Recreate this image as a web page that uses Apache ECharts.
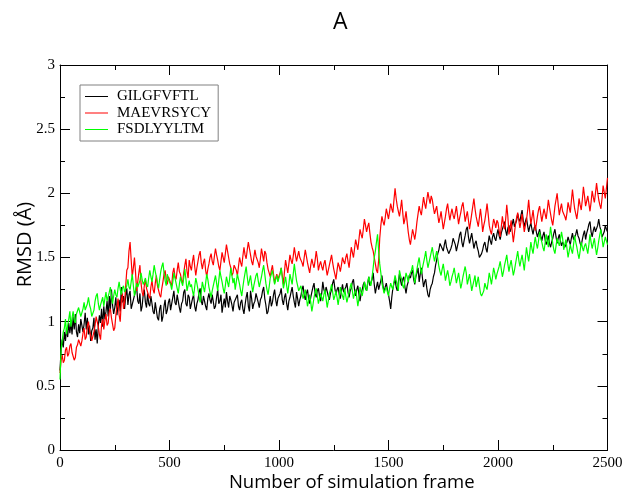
<!DOCTYPE html>
<html>
<head>
<meta charset="utf-8">
<script src="https://cdn.jsdelivr.net/npm/echarts@6/dist/echarts.min.js"></script>
<style>html,body{margin:0;padding:0;background:#fff}#c{width:625px;height:492px}</style>
</head>
<body>
<div id="c"></div>
<script>
// samples every 5 simulation frames, 0..2500 (one row = 50 frames)
const frameStep = 5;

const xTicks = [0, 500, 1000, 1500, 2000, 2500];
const yTicks = [0, 0.5, 1, 1.5, 2, 2.5, 3];
const seriesNames = ['GILGFVFTL', 'MAEVRSYCY', 'FSDLYYLTM'];

// GILGFVFTL (black)
const gilgfvftl = [
0.62,0.78,0.86,0.80,0.92,0.85,0.95,0.88,0.99,0.91,
0.99,0.90,1.04,0.94,1.06,0.92,0.88,0.98,0.91,1.02,
1.01,0.92,0.98,1.07,0.94,1.03,0.90,0.97,0.85,0.93,
0.95,1.03,0.86,0.94,0.83,0.97,1.05,0.99,1.10,0.96,
1.12,1.02,1.08,1.16,1.04,1.20,1.09,1.25,1.13,1.06,
1.11,1.19,1.05,1.13,1.17,1.08,1.27,1.15,1.20,1.10,
1.20,1.26,1.13,1.21,1.24,1.10,1.09,1.17,1.18,1.24,
1.27,1.16,1.14,1.22,1.08,1.12,1.21,1.25,1.15,1.11,
1.22,1.14,1.12,1.20,1.19,1.08,1.06,1.15,1.15,1.03,
1.01,1.10,1.13,1.00,1.04,1.12,1.17,1.06,1.09,1.15,
1.18,1.09,1.10,1.19,1.24,1.15,1.13,1.21,1.20,1.11,
1.07,1.14,1.16,1.23,1.25,1.14,1.12,1.21,1.19,1.10,
1.11,1.18,1.21,1.12,1.08,1.14,1.17,1.23,1.26,1.16,
1.13,1.20,1.19,1.12,1.09,1.18,1.22,1.17,1.14,1.21,
1.20,1.10,1.12,1.19,1.25,1.14,1.16,1.21,1.07,1.13,
1.18,1.11,1.23,1.16,1.11,1.20,1.17,1.13,1.08,1.15,
1.14,1.19,1.21,1.12,1.09,1.15,1.17,1.10,1.06,1.13,
1.19,1.23,1.12,1.08,1.24,1.18,1.10,1.14,1.16,1.22,
1.22,1.15,1.11,1.17,1.19,1.24,1.27,1.18,1.13,1.06,
1.08,1.14,1.20,1.12,1.15,1.21,1.25,1.17,1.12,1.18,
1.18,1.22,1.26,1.17,1.13,1.19,1.22,1.14,1.09,1.16,
1.19,1.23,1.27,1.20,1.15,1.11,1.23,1.18,1.12,1.17,
1.20,1.25,1.28,1.21,1.17,1.22,1.25,1.18,1.14,1.19,
1.23,1.27,1.30,1.22,1.19,1.24,1.26,1.20,1.16,1.22,
1.31,1.25,1.22,1.27,1.28,1.20,1.17,1.22,1.25,1.30,
1.33,1.26,1.21,1.25,1.27,1.21,1.18,1.24,1.29,1.23,
1.22,1.27,1.30,1.23,1.19,1.24,1.26,1.31,1.33,1.25,
1.20,1.25,1.28,1.21,1.16,1.22,1.25,1.29,1.31,1.26,
1.24,1.30,1.35,1.28,1.27,1.33,1.38,1.29,1.22,1.27,
1.31,1.25,1.26,1.32,1.36,1.28,1.23,1.27,1.30,1.25,
1.21,1.16,1.10,1.19,1.26,1.30,1.33,1.27,1.24,1.31,
1.37,1.32,1.28,1.33,1.35,1.27,1.22,1.28,1.31,1.36,
1.34,1.38,1.40,1.33,1.29,1.35,1.38,1.42,1.31,1.37,
1.42,1.34,1.27,1.31,1.33,1.26,1.21,1.19,1.25,1.28,
1.30,1.35,1.38,1.44,1.48,1.53,1.56,1.61,1.62,1.57,
1.55,1.60,1.64,1.58,1.58,1.53,1.52,1.57,1.60,1.65,
1.66,1.60,1.55,1.59,1.63,1.68,1.70,1.62,1.58,1.63,
1.67,1.72,1.74,1.66,1.61,1.65,1.69,1.63,1.57,1.61,
1.63,1.58,1.55,1.50,1.49,1.53,1.56,1.60,1.62,1.57,
1.54,1.61,1.67,1.63,1.60,1.66,1.69,1.65,1.63,1.68,
1.72,1.67,1.64,1.69,1.70,1.75,1.78,1.71,1.67,1.73,
1.75,1.70,1.69,1.76,1.80,1.74,1.73,1.79,1.84,1.80,
1.78,1.83,1.87,1.79,1.74,1.78,1.81,1.75,1.70,1.74,
1.77,1.72,1.68,1.73,1.75,1.70,1.66,1.69,1.72,1.67,
1.63,1.67,1.70,1.64,1.60,1.63,1.67,1.61,1.58,1.62,
1.65,1.69,1.72,1.66,1.61,1.65,1.68,1.63,1.59,1.62,
1.62,1.58,1.57,1.62,1.66,1.63,1.60,1.65,1.69,1.64,
1.63,1.68,1.72,1.67,1.65,1.61,1.59,1.64,1.68,1.71,
1.64,1.69,1.72,1.76,1.78,1.70,1.66,1.71,1.74,1.70,
1.69,1.75,1.80,1.74,1.71,1.66,1.65,1.70,1.75,1.72,
1.70];

// MAEVRSYCY (red)
const maevrsycy = [
0.60,0.70,0.74,0.68,0.70,0.78,0.80,0.73,0.75,0.81,
0.83,0.76,0.77,0.70,0.72,0.80,0.82,0.86,0.87,0.81,
0.85,0.91,0.95,0.86,0.88,0.97,1.00,0.93,0.92,0.85,
0.84,0.92,0.97,1.04,1.03,0.96,0.90,0.86,0.98,1.02,
0.94,1.01,1.06,0.97,0.99,1.08,1.10,1.03,1.02,0.93,
0.95,1.05,1.12,1.18,1.05,1.00,1.16,1.22,1.10,1.15,
1.28,1.40,1.42,1.55,1.62,1.48,1.35,1.42,1.50,1.38,
1.24,1.31,1.38,1.44,1.30,1.23,1.20,1.28,1.33,1.26,
1.25,1.20,1.18,1.27,1.32,1.25,1.22,1.30,1.36,1.28,
1.27,1.21,1.19,1.26,1.31,1.37,1.40,1.33,1.29,1.35,
1.35,1.30,1.28,1.38,1.42,1.35,1.33,1.40,1.46,1.39,
1.37,1.32,1.30,1.38,1.44,1.49,1.39,1.34,1.48,1.43,
1.40,1.47,1.52,1.43,1.36,1.42,1.47,1.52,1.55,1.46,
1.41,1.46,1.49,1.40,1.35,1.41,1.45,1.50,1.53,1.47,
1.44,1.51,1.57,1.52,1.48,1.43,1.40,1.47,1.54,1.50,
1.46,1.53,1.60,1.55,1.50,1.45,1.42,1.36,1.38,1.44,
1.45,1.40,1.36,1.43,1.50,1.46,1.43,1.51,1.58,1.52,
1.49,1.56,1.62,1.57,1.52,1.47,1.44,1.50,1.56,1.51,
1.50,1.46,1.42,1.49,1.57,1.52,1.47,1.55,1.53,1.46,
1.41,1.38,1.35,1.40,1.44,1.37,1.30,1.34,1.37,1.33,
1.33,1.38,1.42,1.36,1.29,1.39,1.48,1.43,1.38,1.45,
1.52,1.48,1.45,1.51,1.58,1.52,1.47,1.51,1.55,1.50,
1.50,1.46,1.43,1.50,1.56,1.51,1.46,1.42,1.38,1.44,
1.49,1.45,1.42,1.48,1.55,1.49,1.40,1.44,1.47,1.43,
1.40,1.45,1.48,1.42,1.36,1.40,1.44,1.48,1.52,1.46,
1.41,1.37,1.33,1.40,1.46,1.43,1.39,1.44,1.50,1.47,
1.45,1.50,1.53,1.47,1.42,1.50,1.58,1.54,1.50,1.57,
1.64,1.60,1.56,1.64,1.72,1.68,1.65,1.72,1.80,1.75,
1.70,1.74,1.77,1.69,1.62,1.58,1.55,1.50,1.45,1.40,
1.38,1.48,1.65,1.75,1.82,1.78,1.75,1.81,1.88,1.84,
1.80,1.86,1.92,1.88,1.85,1.95,2.04,1.96,1.90,1.86,
1.82,1.88,1.95,1.85,1.76,1.80,1.86,1.78,1.70,1.64,
1.60,1.66,1.72,1.68,1.64,1.70,1.78,1.84,1.90,1.86,
1.83,1.90,1.97,1.92,1.88,1.95,2.01,1.96,1.92,1.98,
1.95,1.89,1.84,1.87,1.90,1.83,1.77,1.81,1.86,1.79,
1.72,1.77,1.82,1.88,1.92,1.85,1.79,1.84,1.88,1.83,
1.80,1.85,1.90,1.83,1.76,1.81,1.85,1.90,1.93,1.86,
1.78,1.82,1.86,1.79,1.72,1.78,1.84,1.90,1.96,1.88,
1.82,1.78,1.74,1.81,1.88,1.80,1.70,1.75,1.79,1.85,
1.92,1.84,1.75,1.71,1.68,1.74,1.80,1.77,1.73,1.79,
1.77,1.71,1.66,1.74,1.82,1.76,1.72,1.80,1.91,1.82,
1.68,1.73,1.79,1.70,1.62,1.69,1.76,1.81,1.85,1.79,
1.73,1.78,1.84,1.77,1.70,1.75,1.79,1.86,1.95,1.85,
1.76,1.81,1.87,1.79,1.71,1.76,1.82,1.87,1.90,1.84,
1.78,1.83,1.88,1.84,1.80,1.87,1.95,1.89,1.84,1.79,
1.75,1.82,1.90,1.95,2.00,1.91,1.83,1.88,1.92,1.86,
1.86,1.82,1.79,1.85,1.93,1.89,1.85,1.94,2.03,1.95,
1.88,1.84,1.80,1.87,1.96,1.91,1.87,1.95,2.05,1.98,
1.90,1.94,1.98,1.92,1.86,1.93,2.02,1.97,1.93,2.00,
2.08,2.01,1.95,1.91,1.88,1.96,2.06,2.01,1.96,2.04,
2.12];

// FSDLYYLTM (green)
const fsdlyyltm = [
0.55,0.78,0.85,0.92,0.95,1.02,0.90,0.97,1.02,1.08,
0.96,1.03,1.08,1.01,0.99,1.06,1.05,1.11,1.12,1.04,
1.04,1.10,1.15,1.09,1.08,1.14,1.19,1.13,1.10,1.04,
1.03,1.09,1.16,1.20,1.22,1.14,1.09,1.13,1.14,1.19,
1.12,1.18,1.23,1.16,1.17,1.23,1.27,1.20,1.14,1.20,
1.25,1.21,1.19,1.26,1.31,1.25,1.21,1.26,1.28,1.23,
1.22,1.28,1.33,1.27,1.25,1.31,1.37,1.28,1.20,1.25,
1.30,1.27,1.26,1.32,1.38,1.33,1.29,1.31,1.34,1.29,
1.27,1.34,1.40,1.35,1.31,1.37,1.44,1.39,1.35,1.30,
1.26,1.33,1.39,1.43,1.46,1.38,1.32,1.28,1.37,1.33,
1.33,1.29,1.25,1.31,1.38,1.34,1.30,1.26,1.22,1.29,
1.35,1.31,1.28,1.34,1.41,1.33,1.24,1.28,1.32,1.27,
1.29,1.24,1.20,1.27,1.34,1.30,1.25,1.20,1.15,1.23,
1.31,1.27,1.23,1.30,1.37,1.33,1.27,1.23,1.19,1.24,
1.28,1.32,1.36,1.30,1.24,1.32,1.40,1.35,1.31,1.26,
1.22,1.28,1.35,1.31,1.27,1.34,1.42,1.36,1.30,1.34,
1.25,1.31,1.37,1.33,1.29,1.24,1.20,1.27,1.33,1.38,
1.43,1.35,1.28,1.32,1.36,1.29,1.23,1.28,1.32,1.36,
1.38,1.32,1.27,1.31,1.35,1.40,1.44,1.37,1.30,1.25,
1.21,1.27,1.34,1.37,1.40,1.34,1.29,1.33,1.36,1.31,
1.31,1.37,1.42,1.34,1.26,1.30,1.35,1.28,1.22,1.29,
1.37,1.33,1.29,1.37,1.45,1.38,1.32,1.28,1.24,1.26,
1.28,1.22,1.18,1.21,1.25,1.19,1.12,1.16,1.21,1.15,
1.08,1.13,1.19,1.23,1.26,1.20,1.14,1.18,1.22,1.19,
1.16,1.21,1.25,1.18,1.11,1.16,1.22,1.25,1.29,1.23,
1.17,1.20,1.24,1.19,1.13,1.19,1.27,1.23,1.20,1.17,
1.26,1.20,1.15,1.19,1.23,1.27,1.30,1.24,1.18,1.22,
1.25,1.19,1.12,1.18,1.27,1.23,1.20,1.25,1.31,1.27,
1.24,1.30,1.35,1.31,1.28,1.35,1.42,1.50,1.55,1.62,
1.68,1.55,1.45,1.38,1.30,1.26,1.22,1.25,1.27,1.23,
1.20,1.26,1.30,1.27,1.25,1.31,1.36,1.32,1.28,1.24,
1.40,1.36,1.33,1.28,1.26,1.32,1.38,1.35,1.31,1.36,
1.35,1.40,1.44,1.37,1.30,1.36,1.41,1.46,1.50,1.43,
1.37,1.42,1.46,1.50,1.55,1.48,1.42,1.46,1.50,1.54,
1.58,1.52,1.47,1.51,1.55,1.49,1.43,1.39,1.36,1.41,
1.45,1.39,1.32,1.36,1.40,1.35,1.28,1.31,1.35,1.38,
1.42,1.36,1.30,1.34,1.38,1.32,1.26,1.30,1.35,1.39,
1.43,1.38,1.29,1.33,1.37,1.31,1.24,1.28,1.32,1.36,
1.27,1.31,1.35,1.28,1.22,1.20,1.19,1.24,1.30,1.27,
1.25,1.31,1.38,1.34,1.29,1.35,1.42,1.38,1.33,1.37,
1.38,1.43,1.47,1.41,1.35,1.39,1.44,1.48,1.52,1.45,
1.39,1.44,1.48,1.42,1.36,1.40,1.45,1.50,1.55,1.48,
1.43,1.48,1.52,1.46,1.40,1.49,1.58,1.52,1.47,1.54,
1.62,1.57,1.53,1.60,1.66,1.61,1.57,1.63,1.70,1.65,
1.62,1.58,1.55,1.61,1.68,1.63,1.58,1.66,1.74,1.67,
1.61,1.56,1.53,1.59,1.65,1.62,1.59,1.64,1.70,1.65,
1.56,1.60,1.64,1.57,1.50,1.55,1.60,1.56,1.53,1.60,
1.67,1.62,1.58,1.53,1.49,1.55,1.62,1.58,1.55,1.59,
1.61,1.57,1.53,1.60,1.68,1.62,1.57,1.61,1.65,1.58,
1.52,1.57,1.63,1.68,1.72,1.65,1.58,1.62,1.66,1.63,
1.60];

const colors = ['#000000', '#ff0000', '#00ff00'];
const valuesList = [gilgfvftl, maevrsycy, fsdlyyltm];

const chart = echarts.init(document.getElementById('c'), null, {renderer: 'canvas'});
const tickFont = {fontFamily: 'Liberation Serif', fontSize: 15, color: '#000'};
const axisLineStyle = {color: '#000', width: 1};

function xAx(pos, labels) {
  return {
    type: 'value', position: pos, min: xTicks[0], max: xTicks[xTicks.length - 1],
    interval: xTicks[1] - xTicks[0],
    axisLine: {show: true, onZero: false, lineStyle: axisLineStyle},
    axisTick: {show: true, inside: true, length: 10, lineStyle: axisLineStyle},
    minorTick: {show: true, splitNumber: 2, length: 5, lineStyle: axisLineStyle},
    splitLine: {show: false},
    axisLabel: labels ? Object.assign({margin: 6, formatter: v => String(v)}, tickFont) : {show: false}
  };
}
function yAx(pos, labels) {
  return {
    type: 'value', position: pos, min: yTicks[0], max: yTicks[yTicks.length - 1],
    interval: yTicks[1] - yTicks[0],
    axisLine: {show: true, onZero: false, lineStyle: axisLineStyle},
    axisTick: {show: true, inside: true, length: 10, lineStyle: axisLineStyle},
    minorTick: {show: true, splitNumber: 2, length: 5, lineStyle: axisLineStyle},
    splitLine: {show: false},
    axisLabel: labels ? Object.assign({margin: 5, formatter: v => String(v)}, tickFont) : {show: false}
  };
}

const xa = xAx('bottom', true);
xa.name = 'Number of simulation frame';
xa.nameLocation = 'middle';
xa.nameGap = 23;
xa.nameMoveOverlap = false;
xa.nameTextStyle = {fontFamily: 'Open Sans', fontSize: 18.5, color: '#000', padding: [0, 0, 0, 36]};
const ya = yAx('left', true);
ya.name = 'RMSD (Å)';
ya.nameLocation = 'middle';
ya.nameGap = 25;
ya.nameMoveOverlap = false;
ya.nameTextStyle = {fontFamily: 'Open Sans', fontSize: 20, color: '#000', padding: [0, 0, 0, 26]};

chart.setOption({
  animation: false,
  backgroundColor: '#fff',
  title: {text: 'A', left: 328, top: 6, textStyle: {fontFamily: 'Open Sans', fontSize: 23, fontWeight: 'normal', color: '#000'}},
  grid: {left: 60, right: 17.5, top: 65, bottom: 42, show: false, outerBoundsMode: 'none', containLabel: false},
  legend: {
    left: 80, top: 85, orient: 'vertical',
    itemWidth: 23, itemHeight: 14, itemGap: 1.5,
    padding: [4, 7, 4, 5],
    borderColor: '#808080', borderWidth: 1, backgroundColor: '#fff',
    textStyle: {fontFamily: 'Liberation Serif', fontSize: 15, color: '#000', padding: [0, 0, 0, 4]},
    data: seriesNames.map(n => ({name: n, icon: 'path://M0 0H23V1H0Z'}))
  },
  xAxis: [xa, xAx('top', false)],
  yAxis: [ya, yAx('right', false)],
  series: seriesNames.map((n, k) => ({
    name: n, type: 'line', xAxisIndex: 0, yAxisIndex: 0,
    symbol: 'none', showSymbol: false,
    lineStyle: {color: colors[k], width: 1.2},
    itemStyle: {color: colors[k]},
    data: valuesList[k].map((v, i) => [i * frameStep, v])
  }))
});
</script>
</body>
</html>
